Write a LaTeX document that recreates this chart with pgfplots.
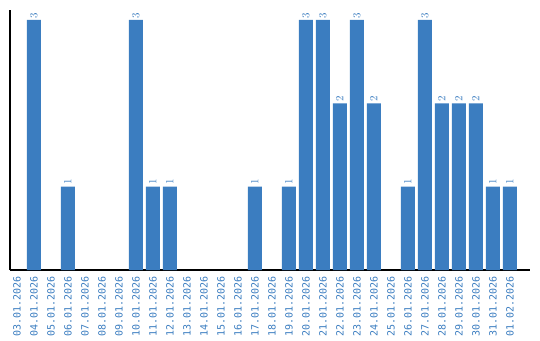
\documentclass[border=0pt]{standalone}
\usepackage{pgfplots}
\pgfplotsset{compat=1.18}
\usepackage{fontspec}
\setmainfont{Liberation Sans}
\newfontfamily\monofont{DejaVu Sans Mono}
\definecolor{barblue}{RGB}{59,125,192}
\begin{document}
\begin{tikzpicture}[x=1pt,y=1pt]
\useasboundingbox (-10,-70) rectangle (530,270);
\begin{axis}[
  at={(0,0)}, anchor=south west,
  scale only axis, width=520pt, height=260pt,
  xmin=-0.41, xmax=30.18, ymin=0, ymax=3.12,
  axis x line*=bottom, axis y line*=left,
  axis line style={black, line width=1.2pt, -},
  ytick=\empty,
  xtick={0,...,29},
  xticklabels={03.01.2026,04.01.2026,05.01.2026,06.01.2026,07.01.2026,08.01.2026,09.01.2026,10.01.2026,11.01.2026,12.01.2026,13.01.2026,14.01.2026,15.01.2026,16.01.2026,17.01.2026,18.01.2026,19.01.2026,20.01.2026,21.01.2026,22.01.2026,23.01.2026,24.01.2026,25.01.2026,26.01.2026,27.01.2026,28.01.2026,29.01.2026,30.01.2026,31.01.2026,01.02.2026},
  x tick label style={rotate=90, anchor=east, font=\monofont\fontsize{10}{10}\selectfont, text=barblue, inner sep=0pt},
  major tick length=0pt,
  xticklabel shift=6pt,
  nodes near coords,
  every node near coord/.style={rotate=90, anchor=west, font=\monofont\fontsize{10.5}{10.5}\selectfont, text=barblue, inner sep=1.5pt},
]
\addplot[ybar, bar width=14pt, fill=barblue, draw=none] coordinates {
(1,3) (3,1) (7,3) (8,1) (9,1) (14,1) (16,1) (17,3) (18,3) (19,2) (20,3) (21,2) (23,1) (24,3) (25,2) (26,2) (27,2) (28,1) (29,1)
};
\end{axis}
\end{tikzpicture}
\end{document}
